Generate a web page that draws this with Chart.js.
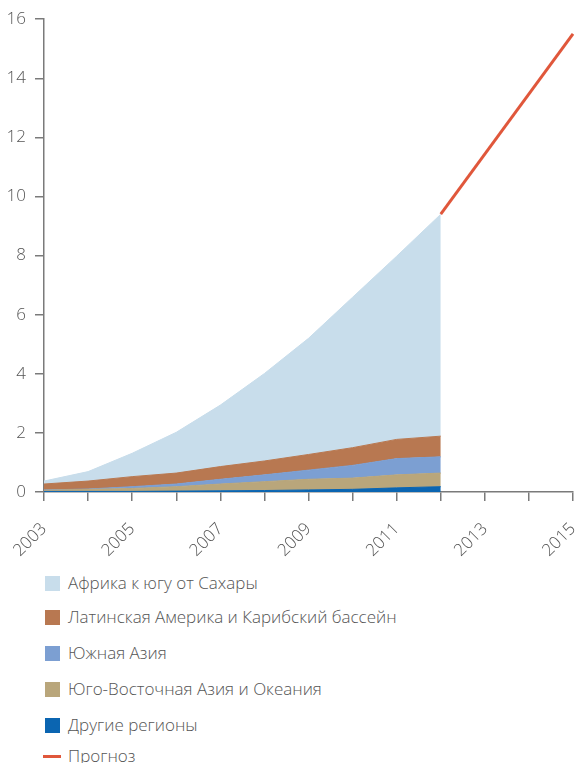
<!DOCTYPE html>
<html>
<head>
<meta charset="utf-8">
<script src="https://cdn.jsdelivr.net/npm/chart.js@4/dist/chart.umd.min.js"></script>
<style>
  body { margin: 0; background: #fff; font-family: "Open Sans", "Noto Sans", sans-serif; }
  #wrap { position: relative; width: 586px; height: 763px; }
  #chartBox { position: absolute; left: 0; top: 0; width: 586px; height: 560px; }
  .legend-item { position: absolute; left: 45px; height: 16px; color: #555; font-size: 17px; font-weight: 300; }
  .legend-item .sw { position: absolute; left: 0; top: 0; width: 15px; height: 15px; }
  .legend-item .ln { position: absolute; left: -2px; top: 6px; width: 18px; height: 3px; }
  .legend-item span.t { position: absolute; left: 23px; top: -4px; white-space: nowrap; line-height: 22px; }
</style>
</head>
<body>
<div id="wrap">
  <div id="chartBox"><canvas id="chart"></canvas></div>
  <div id="legend"></div>
</div>
<script>
const years = ['2003','2004','2005','2006','2007','2008','2009','2010','2011','2012','2013','2014','2015'];

// values per region, 2003-2012 (stacked)
const otherRegions = [0.02, 0.02, 0.02, 0.03, 0.04, 0.05, 0.07, 0.09, 0.14, 0.18];
const seAsiaOceania = [0.04, 0.07, 0.10, 0.15, 0.23, 0.30, 0.36, 0.38, 0.44, 0.46];
const southAsia = [0.01, 0.01, 0.06, 0.09, 0.16, 0.23, 0.31, 0.43, 0.55, 0.55];
const latinAmerica = [0.20, 0.27, 0.34, 0.37, 0.43, 0.47, 0.53, 0.60, 0.65, 0.70];
const subSaharanAfrica = [0.10, 0.32, 0.79, 1.38, 2.08, 2.96, 3.93, 5.09, 6.20, 7.51];

const forecastYears = ['2012', '2015'];
const forecastValues = [9.4, 15.5];

const yTicks = [0, 2, 4, 6, 8, 10, 12, 14, 16];

const series = [
  {label: 'Другие регионы', data: otherRegions, color: '#0b65b1'},
  {label: 'Юго-Восточная Азия и Океания', data: seAsiaOceania, color: '#b9a67b'},
  {label: 'Южная Азия', data: southAsia, color: '#7c9fd2'},
  {label: 'Латинская Америка и Карибский бассейн', data: latinAmerica, color: '#b87851'},
  {label: 'Африка к югу от Сахары', data: subSaharanAfrica, color: '#c8ddeb'}
];

const datasets = series.map((s, i) => ({
  label: s.label,
  data: s.data,
  backgroundColor: s.color,
  borderColor: s.color,
  borderWidth: 1,
  pointRadius: 0,
  fill: i === 0 ? 'origin' : '-1',
  stack: 'regions'
}));

datasets.push({
  label: 'Прогноз',
  data: forecastYears.map((y, i) => ({x: y, y: forecastValues[i]})),
  borderColor: '#e0573b',
  backgroundColor: '#e0573b',
  borderWidth: 3,
  pointRadius: 0,
  fill: false,
  stack: 'forecast'
});

const axisColor = '#7a7a7a';
const tickFont = {family: '"Open Sans", "Noto Sans", sans-serif', size: 17, weight: 300};

new Chart(document.getElementById('chart'), {
  type: 'line',
  data: {labels: years, datasets: datasets},
  options: {
    responsive: true,
    maintainAspectRatio: false,
    animation: false,
    layout: {padding: {top: 19, right: 13, left: 0, bottom: 0}},
    plugins: {legend: {display: false}, tooltip: {enabled: false}},
    elements: {line: {tension: 0}},
    scales: {
      x: {
        offset: false,
        grid: {drawOnChartArea: false, drawTicks: true, tickLength: 9, color: axisColor, lineWidth: 1.5},
        border: {color: axisColor, width: 1.5},
        ticks: {
          color: '#555',
          font: tickFont,
          autoSkip: false,
          minRotation: 45,
          maxRotation: 45,
          padding: 18,
          callback: function (value) {
            const y = parseInt(this.getLabelForValue(value));
            return y % 2 === 1 ? String(y) : '';
          }
        },
        afterFit: scale => {
          scale.height = 68;
          scale.paddingLeft = 0;
          scale.paddingRight = 0;
        }
      },
      y: {
        stacked: true,
        min: 0,
        max: 16,
        afterBuildTicks: scale => { scale.ticks = yTicks.map(v => ({value: v})); },
        grid: {drawOnChartArea: false, drawTicks: true, tickLength: 9, color: axisColor, lineWidth: 1.5},
        border: {color: axisColor, width: 1.5},
        ticks: {color: '#555', font: tickFont, padding: 9},
        afterFit: scale => { scale.width = 44; }
      }
    }
  }
});

// legend, same order as the reference (top to bottom)
const legendItems = series.slice().reverse().map(s => ({label: s.label, color: s.color, line: false}));
legendItems.push({label: 'Прогноз', color: '#e0573b', line: true});
const legendTops = [576, 610, 646, 682, 718, 749];
const legend = document.getElementById('legend');
legendItems.forEach((item, i) => {
  const div = document.createElement('div');
  div.className = 'legend-item';
  div.style.top = legendTops[i] + 'px';
  div.innerHTML = `<div class="${item.line ? 'ln' : 'sw'}" style="background:${item.color}"></div><span class="t">${item.label}</span>`;
  legend.appendChild(div);
});
</script>
</body>
</html>
